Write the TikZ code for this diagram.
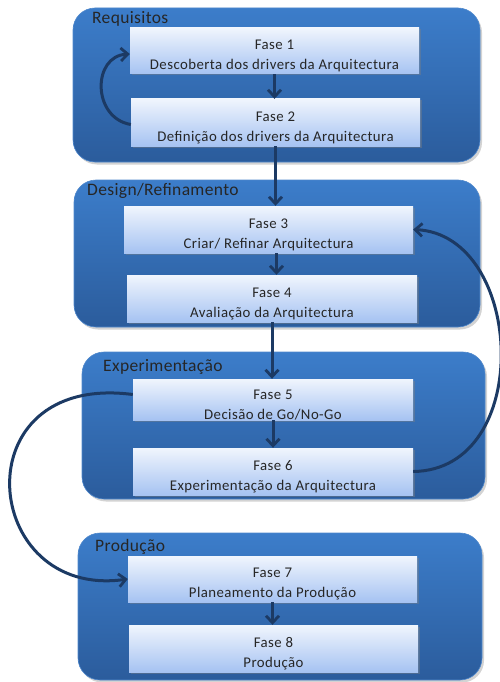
\documentclass[tikz,border=0pt]{standalone}
\usepackage{fontspec}
\setmainfont{Carlito}
\usetikzlibrary{arrows.meta,shadows}

\definecolor{grouptop}{HTML}{3C7DCA}
\definecolor{groupbot}{HTML}{2B5C9C}
\definecolor{groupedge}{HTML}{4F88CC}
\definecolor{boxtop}{HTML}{F0F5FD}
\definecolor{boxbot}{HTML}{A6C3F2}
\definecolor{flow}{HTML}{1C3A64}
\definecolor{ink}{HTML}{262626}

\tikzset{
  group/.style={rectangle, rounded corners=22pt, draw=groupedge, line width=0.6pt,
    top color=grouptop, bottom color=groupbot, inner sep=0pt,
    drop shadow={opacity=0.35, shadow xshift=2pt, shadow yshift=-2.5pt}},
  phase/.style={rectangle, draw=none, top color=boxtop, bottom color=boxbot,
    inner sep=0pt, align=center, text=ink,
    font=\fontsize{14.8}{20}\selectfont\addfontfeatures{LetterSpace=3},
    drop shadow={opacity=0.4, shadow xshift=1.5pt, shadow yshift=-1.5pt}},
  grouplabel/.style={anchor=west, inner sep=0pt, text=black!85,
    font=\fontsize{17.5}{17.5}\selectfont\addfontfeatures{LetterSpace=2}},
  flowarrow/.style={draw=flow, line width=3pt,
    -{Straight Barb[length=7pt,width=13pt,line width=2.8pt]}},
}
% tall strut above the first text line, pushing the two lines down a little
\newcommand{\topstrut}{\rule{0pt}{20pt}}

\begin{document}
\begin{tikzpicture}[x=1pt,y=-1pt]
  \useasboundingbox (0,0) rectangle (499,682);

  % phase groups
  \node[group, minimum width=407pt, minimum height=154pt] (g1) at (276.5,85) {};
  \node[group, minimum width=406pt, minimum height=147pt] (g2) at (277,253.5) {};
  \node[group, minimum width=403pt, minimum height=147pt] (g3) at (283.5,425.5) {};
  \node[group, minimum width=404pt, minimum height=147pt] (g4) at (280,606.5) {};

  \node[grouplabel] (l1) at (92,19) {Requisitos};
  \node[grouplabel] (l2) at (87,191) {Design/Refinamento};
  \node[grouplabel] (l3) at (103,367) {Experimentação};
  \node[grouplabel] (l4) at (95,547) {Produção};

  % phases
  \node[phase, minimum width=289pt, minimum height=46pt] (f1) at (274.5,51)
    {\topstrut Fase 1\\Descoberta dos drivers da Arquitectura};
  \node[phase, minimum width=289pt, minimum height=47pt] (f2) at (275.5,122.5)
    {\topstrut Fase 2\\Definição dos drivers da Arquitectura};
  \node[phase, minimum width=289pt, minimum height=47pt] (f3) at (268.5,229.5)
    {\topstrut Fase 3\\Criar/ Refinar Arquitectura};
  \node[phase, minimum width=290pt, minimum height=47pt] (f4) at (272,298.5)
    {\topstrut Fase 4\\Avaliação da Arquitectura};
  \node[phase, minimum width=280pt, minimum height=41pt] (f5) at (273,399.5)
    {\topstrut Fase 5\\Decisão de Go/No-Go};
  \node[phase, minimum width=280pt, minimum height=47pt] (f6) at (273,471.5)
    {\topstrut Fase 6\\Experimentação da Arquitectura};
  \node[phase, minimum width=289pt, minimum height=46pt] (f7) at (272.5,579)
    {\topstrut Fase 7\\Planeamento da Produção};
  \node[phase, minimum width=289pt, minimum height=47pt] (f8) at (273.5,648.5)
    {\topstrut Fase 8\\Produção};

  % sequential flow
  \draw[flowarrow] (f1.south) -- (f1.south |- f2.north);
  \draw[flowarrow] (f2.south) -- (f2.south |- f3.north);
  \draw[flowarrow] ([xshift=8pt]f3.south) -- ([xshift=8pt]f3.south |- f4.north);
  \draw[flowarrow] (f4.south) -- (f4.south |- f5.north);
  \draw[flowarrow] (f5.south) -- (f5.south |- f6.north);
  \draw[flowarrow] (f7.south) -- (f7.south |- f8.north);

  % iteration loops
  \draw[flowarrow] ([yshift=-2pt]f2.west) .. controls (92,118) and (92,56) .. ([yshift=-3pt]f1.west);
  \draw[flowarrow] (f6.east) .. controls (535,470) and (525,235) .. (f3.east);
  \draw[flowarrow] ([yshift=5pt]f5.west) .. controls (-40,372) and (-20,600) .. (f7.west);
\end{tikzpicture}
\end{document}
